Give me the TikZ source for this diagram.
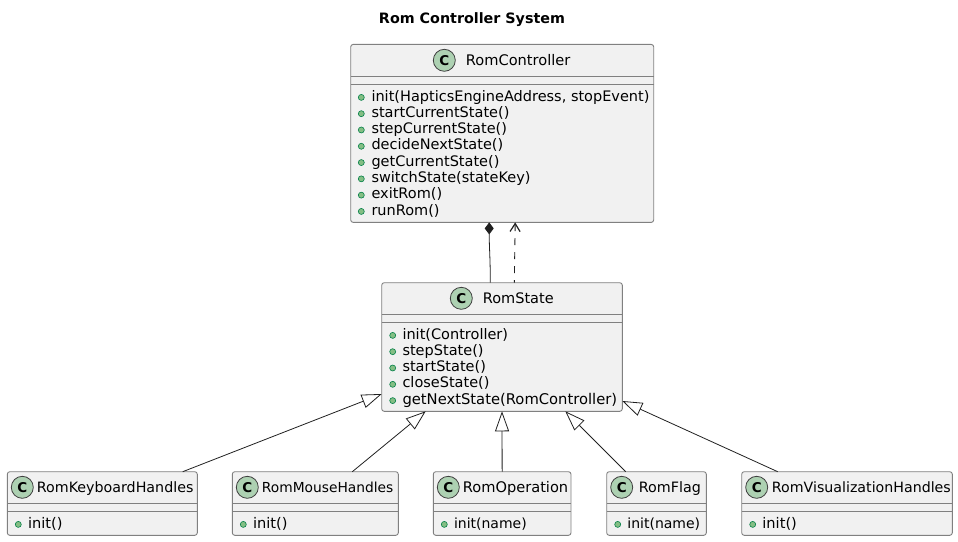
\documentclass[tikz,border=0pt]{standalone}
\usepackage{fontspec}
\setmainfont{DejaVu Sans}
\usetikzlibrary{arrows.meta}

\definecolor{boxfill}{HTML}{F1F1F1}
\definecolor{boxline}{HTML}{808080}
\definecolor{linkline}{HTML}{202020}
\definecolor{spotfill}{HTML}{ADD1B2}
\definecolor{spotline}{HTML}{404040}
\definecolor{bulletfill}{HTML}{84BE84}
\definecolor{bulletline}{HTML}{038048}

\tikzset{
	classbox/.style = {draw=boxline, fill=boxfill, line width=0.9pt, rounded corners=2.5pt, inner sep=0pt, outer sep=0pt},
	spot/.style = {circle, draw=spotline, fill=spotfill, line width=0.8pt, minimum size=22pt, inner sep=0pt, font=\fontsize{13.5}{14}\selectfont\bfseries},
	bullet/.style = {circle, draw=bulletline, fill=bulletfill, line width=0.6pt, minimum size=6pt, inner sep=0pt},
	label/.style = {anchor=base west, inner sep=0pt, font=\fontsize{14.5}{16}\selectfont},
	sepline/.style = {draw=boxline, line width=0.9pt},
	link/.style = {draw=linkline, line width=0.8pt},
	inherit/.style = {link, {Triangle[open, fill=white, length=20pt, width=14pt]}-}
}

\begin{document}
\begin{tikzpicture}[x=1pt, y=-1pt]
	\useasboundingbox (0,0) rectangle (958,541);

	% Title
	\node[anchor=base, inner sep=0pt, font=\fontsize{14.3}{16}\selectfont\bfseries] (title) at (472,23) {Rom Controller System};

	% Controller box
	\node[classbox, minimum width=303pt, minimum height=178pt] (RomController) at (502.2,133.4) {};
	\draw[sepline] (RomController.west |- 0,76.3) -- (RomController.east |- 0,76.3);
	\draw[sepline] (RomController.west |- 0,84.3) -- (RomController.east |- 0,84.3);
	\node[spot] (RomController spot) at (444.3,60.3) {C};
	\node[label, font=\fontsize{14.6}{16}\selectfont] (RomController name) at (465.7,65.2) {RomController};

	% Controller members
	\foreach \m [count=\i from 0] in {init(HapticsEngineAddress{,} stopEvent),startCurrentState(),stepCurrentState(),decideNextState(),getCurrentState(),switchState(stateKey),exitRom(),runRom()}
	{
		\node[bullet] (RomController bullet \i) at (361.3,{97.4+16.29*\i}) {};
		\node[label] (RomController member \i) at (371.3,{101+16.29*\i}) {\m};
	}

	% State box
	\node[classbox, minimum width=240.6pt, minimum height=128.6pt] (RomState) at (502,347) {};
	\draw[sepline] (RomState.west |- 0,314.3) -- (RomState.east |- 0,314.3);
	\draw[sepline] (RomState.west |- 0,322.3) -- (RomState.east |- 0,322.3);
	\node[spot] (RomState spot) at (461.3,298.3) {C};
	\node[label] (RomState name) at (482.7,303.4) {RomState};

	% State members
	\foreach \m/\s [count=\i from 0] in {init(Controller)/14.5,stepState()/14.5,startState()/14.5,closeState()/14.5,getNextState(RomController)/14.75}
	{
		\node[bullet] (RomState bullet \i) at (392.7,{335.4+16.3*\i}) {};
		\node[label, font=\fontsize{\s}{16}\selectfont] (RomState member \i) at (402.3,{339+16.3*\i}) {\m};
	}

	% Handler boxes along the bottom
	\foreach \n/\l/\w/\c/\s/\m/\t in {RomKeyboardHandles/7.3/190/36.7/14.25/init()/14.6,RomMouseHandles/232.3/166/261.7/13.8/init()/14.6,RomOperation/433.3/137.7/462.7/14.6/init(name)/14,RomFlag/606.7/99.6/638.7/14.3/init(name)/14,RomVisualizationHandles/741.7/210.6/771.7/14.2/init()/14.6}
	{
		\node[classbox, anchor=north west, minimum width=\w pt, minimum height=63.6pt] (\n) at (\l,471.7) {};
		\draw[sepline] (\n.west |- 0,503.3) -- (\n.east |- 0,503.3);
		\draw[sepline] (\n.west |- 0,511.3) -- (\n.east |- 0,511.3);
		\node[spot] (\n spot) at ({\l+15},487.3) {C};
		\node[label, font=\fontsize{\s}{16}\selectfont] (\n name) at (\c,492.4) {\n};
		\node[bullet] (\n bullet) at ({\l+11},524.4) {};
		\node[label, font=\fontsize{\t}{16}\selectfont] (\n member) at ({\l+20.5},528.3) {\m};
	}

	% Controller and state
	\draw[link, {Diamond[length=12pt, width=9pt]}-] ([xshift=-13pt]RomController.south) .. controls +(0,25) and +(0,-25) .. ([xshift=-11.7pt]RomState.north);
	\draw[link, line width=0.9pt, dash pattern=on 7pt off 7pt, {Straight Barb[length=8pt, width=10pt, line width=1.2pt]}-] ([xshift=13pt]RomController.south) -- ([xshift=12.3pt]RomState.north);

	% Inheritance
	\draw[inherit] ([yshift=-47pt]RomState.west) -- ([xshift=80.4pt]RomKeyboardHandles.north);
	\draw[inherit] ([xshift=-76.3pt]RomState.south) -- ([xshift=37pt]RomMouseHandles.north);
	\draw[inherit] (RomState.south) -- (RomOperation.north);
	\draw[inherit] ([xshift=63.3pt]RomState.south) -- ([xshift=-30.8pt]RomFlag.north);
	\draw[inherit] ([yshift=-54pt]RomState.east) -- ([xshift=-69.3pt]RomVisualizationHandles.north);
\end{tikzpicture}
\end{document}
